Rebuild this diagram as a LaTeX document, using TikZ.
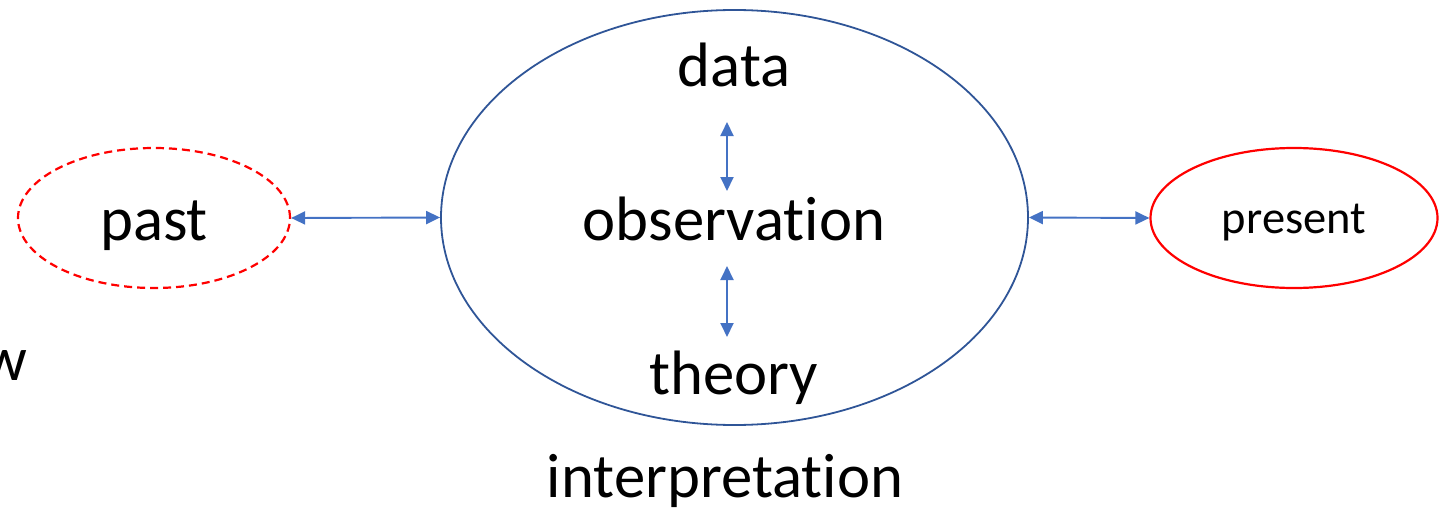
\documentclass[tikz,border=0pt]{standalone}
\usepackage{fontspec}
\setmainfont{Carlito}[Ligatures=NoCommon]
\usetikzlibrary{shapes.geometric,arrows.meta}
\definecolor{mainblue}{HTML}{2F5597}
\definecolor{arrowblue}{HTML}{4472C4}
\definecolor{redline}{HTML}{FF0000}
\begin{document}
\begin{tikzpicture}[x=1pt,y=-1pt,
  oval/.style={ellipse,inner sep=0pt,draw},
  bigtext/.style={anchor=base,inner sep=0pt,font=\fontsize{62.7}{70}\selectfont},
  smalltext/.style={anchor=base,inner sep=0pt,font=\fontsize{46.5}{52}\selectfont},
  link/.style={draw=arrowblue,line width=1.9pt,{Triangle[length=14pt,width=13pt]}-{Triangle[length=14pt,width=13pt]}}]
\useasboundingbox (0,0) rectangle (1439,511);
% ellipses
\node[oval,draw=redline,line width=2.2pt,dash pattern=on 8pt off 5pt,minimum width=272pt,minimum height=140pt] (past) at (154,218) {};
\node[oval,draw=mainblue,line width=1.8pt,minimum width=587pt,minimum height=415pt] (main) at (734.5,217.5) {};
\node[oval,draw=redline,line width=2.2pt,minimum width=287pt,minimum height=140pt] (present) at (1294,218) {};
% texts
\node[bigtext] (tpast) at (154,240) {past};
\node[smalltext] (tpresent) at (1294,233) {present};
\node[bigtext] (tdata) at (734,86) {data};
\node[bigtext] (tobs) at (734,240) {observation};
\node[bigtext] (ttheory) at (734,394) {theory};
\node[bigtext] (tinterp) at (725,497) {interpretation};
\node[bigtext,anchor=base west] (tw) at (-18,380) {w};
% arrow end points
\coordinate (a1) at (727,122);
\coordinate (a2) at (727,191);
\coordinate (a3) at (727,266);
\coordinate (a4) at (727,337);
% connectors
\draw[link] (past.east) -- (main.west);
\draw[link] (main.east) -- (present.west);
\draw[link] (a1) -- (a2);
\draw[link] (a3) -- (a4);
\end{tikzpicture}
\end{document}
